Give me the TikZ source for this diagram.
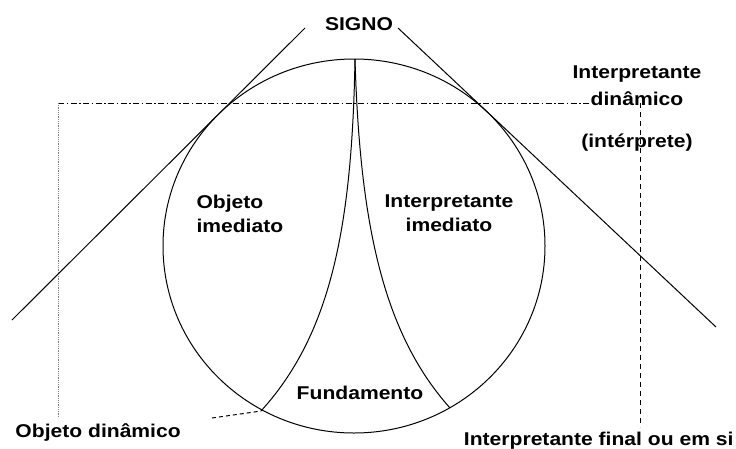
\documentclass[tikz,border=0pt]{standalone}
\usepackage{fontspec}
\setmainfont{Liberation Sans}[FakeStretch=1.14]
\usepackage{tikz}

\begin{document}
\begin{tikzpicture}[x=1pt,y=-1pt,line width=1pt,
  lbl/.style={font=\fontsize{18.5}{24}\selectfont\bfseries,inner sep=0pt},
  dashdot/.style={dash pattern=on 6pt off 2.5pt on 1.5pt off 2.5pt},
  dotline/.style={gray,line width=0.8pt,dash pattern=on 1pt off 0.8pt},
  dashline/.style={dash pattern=on 5pt off 4pt}]
\useasboundingbox (0,0) rectangle (736,448);
% circle and its two inner arcs
\coordinate (c) at (354,246);
\draw (c) ellipse [x radius=191pt, y radius=187pt];
\coordinate (top) at (355,59);
\coordinate (lb) at (261,411);
\coordinate (rb) at (450,408);
\draw (top) .. controls (352,230) and (330,335) .. (lb);
\draw (top) .. controls (360,230) and (385,335) .. (rb);
% tangents
\coordinate (l1) at (12,320);
\coordinate (l2) at (305,28);
\coordinate (r1) at (398,28);
\coordinate (r2) at (716,327);
\draw (l1) -- (l2);
\draw (r1) -- (r2);
% labels
\node[lbl,anchor=base] (signo) at (359,30) {SIGNO};
\node[lbl,anchor=north west,align=left] (objim) at (196,195) {Objeto\\imediato};
\node[lbl,anchor=north,align=center] (intim) at (449,194) {Interpretante\\imediato};
\node[lbl,anchor=base] (fund) at (360,399) {Fundamento};
\node[lbl,anchor=north,align=center] (intdin) at (637,65) {Interpretante\\[3pt]din\^amico};
\node[lbl,anchor=base] (interp) at (637,147) {(int\'erprete)};
\node[lbl,anchor=base west] (objdin) at (15,437) {Objeto din\^amico};
\node[lbl,anchor=base east] (intfin) at (734,445) {Interpretante final ou em si};
% dynamic object and interpretant
\coordinate (hl) at (58,103);
\coordinate (hr) at (590,103);
\coordinate (vl) at (58,418);
\coordinate (vt) at (640,103);
\coordinate (vb) at (640,427);
\coordinate (od) at (212,418);
\draw[dashdot] (hl) -- (hr);
\draw[dotline] (hl) -- (vl);
\draw[dashline] (vt) -- (vb);
\draw[dash pattern=on 4pt off 3pt] (od) -- (lb);
\end{tikzpicture}
\end{document}
